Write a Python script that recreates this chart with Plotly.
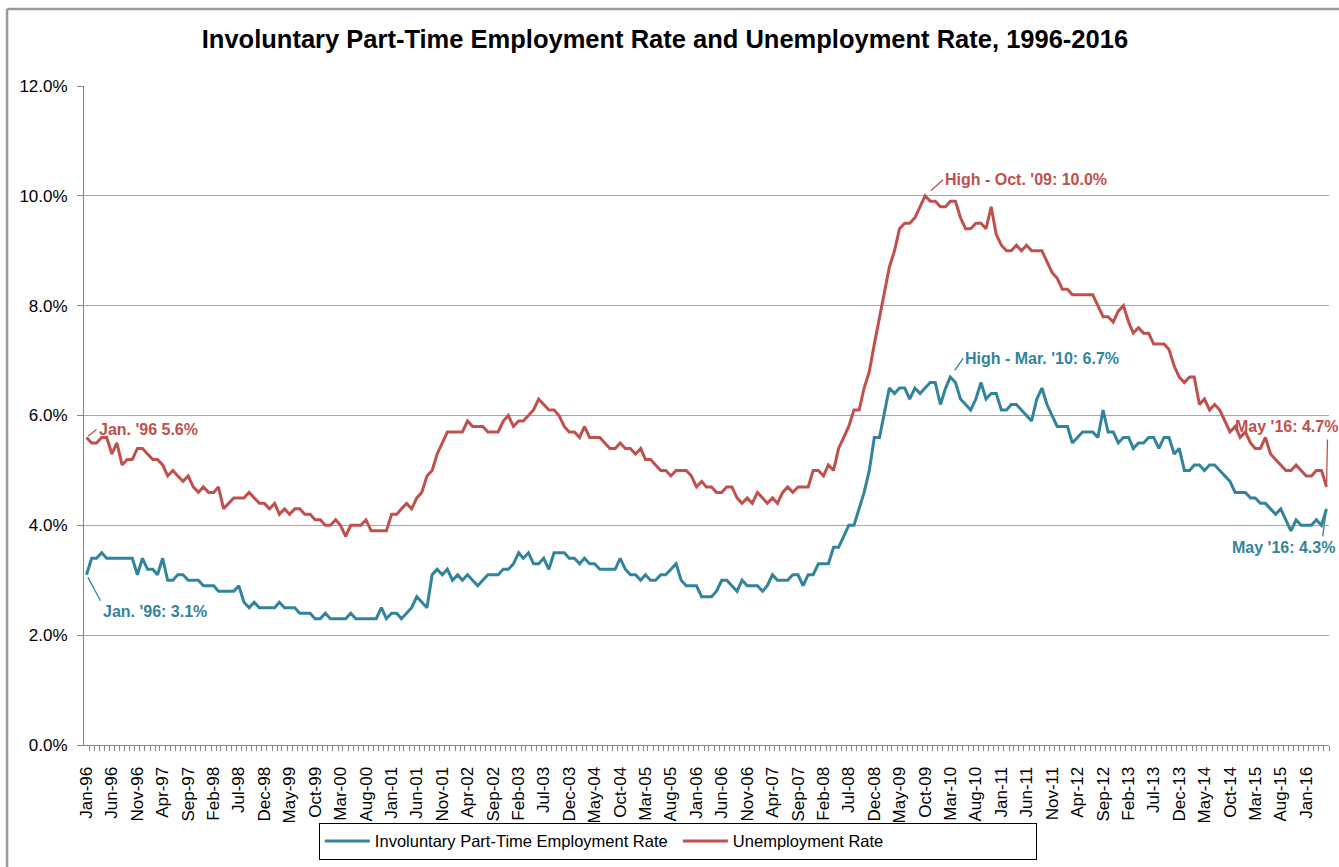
import pandas as pd
import plotly.graph_objects as go

# Monthly series, Jan-1996 .. May-2016 (percent)
INVOLUNTARY_PT = [
    3.1, 3.4, 3.4, 3.5, 3.4, 3.4, 3.4, 3.4, 3.4, 3.4, 3.1, 3.4,  # 1996
    3.2, 3.2, 3.1, 3.4, 3.0, 3.0, 3.1, 3.1, 3.0, 3.0, 3.0, 2.9,  # 1997
    2.9, 2.9, 2.8, 2.8, 2.8, 2.8, 2.9, 2.6, 2.5, 2.6, 2.5, 2.5,  # 1998
    2.5, 2.5, 2.6, 2.5, 2.5, 2.5, 2.4, 2.4, 2.4, 2.3, 2.3, 2.4,  # 1999
    2.3, 2.3, 2.3, 2.3, 2.4, 2.3, 2.3, 2.3, 2.3, 2.3, 2.5, 2.3,  # 2000
    2.4, 2.4, 2.3, 2.4, 2.5, 2.7, 2.6, 2.5, 3.1, 3.2, 3.1, 3.2,  # 2001
    3.0, 3.1, 3.0, 3.1, 3.0, 2.9, 3.0, 3.1, 3.1, 3.1, 3.2, 3.2,  # 2002
    3.3, 3.5, 3.4, 3.5, 3.3, 3.3, 3.4, 3.2, 3.5, 3.5, 3.5, 3.4,  # 2003
    3.4, 3.3, 3.4, 3.3, 3.3, 3.2, 3.2, 3.2, 3.2, 3.4, 3.2, 3.1,  # 2004
    3.1, 3.0, 3.1, 3.0, 3.0, 3.1, 3.1, 3.2, 3.3, 3.0, 2.9, 2.9,  # 2005
    2.9, 2.7, 2.7, 2.7, 2.8, 3.0, 3.0, 2.9, 2.8, 3.0, 2.9, 2.9,  # 2006
    2.9, 2.8, 2.9, 3.1, 3.0, 3.0, 3.0, 3.1, 3.1, 2.9, 3.1, 3.1,  # 2007
    3.3, 3.3, 3.3, 3.6, 3.6, 3.8, 4.0, 4.0, 4.3, 4.6, 5.0, 5.6,  # 2008
    5.6, 6.1, 6.5, 6.4, 6.5, 6.5, 6.3, 6.5, 6.4, 6.5, 6.6, 6.6,  # 2009
    6.2, 6.5, 6.7, 6.6, 6.3, 6.2, 6.1, 6.3, 6.6, 6.3, 6.4, 6.4,  # 2010
    6.1, 6.1, 6.2, 6.2, 6.1, 6.0, 5.9, 6.3, 6.5, 6.2, 6.0, 5.8,  # 2011
    5.8, 5.8, 5.5, 5.6, 5.7, 5.7, 5.7, 5.6, 6.1, 5.7, 5.7, 5.5,  # 2012
    5.6, 5.6, 5.4, 5.5, 5.5, 5.6, 5.6, 5.4, 5.6, 5.6, 5.3, 5.4,  # 2013
    5.0, 5.0, 5.1, 5.1, 5.0, 5.1, 5.1, 5.0, 4.9, 4.8, 4.6, 4.6,  # 2014
    4.6, 4.5, 4.5, 4.4, 4.4, 4.3, 4.2, 4.3, 4.1, 3.9, 4.1, 4.0,  # 2015
    4.0, 4.0, 4.1, 4.0, 4.3,                                     # 2016
]

UNEMPLOYMENT = [
    5.6, 5.5, 5.5, 5.6, 5.6, 5.3, 5.5, 5.1, 5.2, 5.2, 5.4, 5.4,  # 1996
    5.3, 5.2, 5.2, 5.1, 4.9, 5.0, 4.9, 4.8, 4.9, 4.7, 4.6, 4.7,  # 1997
    4.6, 4.6, 4.7, 4.3, 4.4, 4.5, 4.5, 4.5, 4.6, 4.5, 4.4, 4.4,  # 1998
    4.3, 4.4, 4.2, 4.3, 4.2, 4.3, 4.3, 4.2, 4.2, 4.1, 4.1, 4.0,  # 1999
    4.0, 4.1, 4.0, 3.8, 4.0, 4.0, 4.0, 4.1, 3.9, 3.9, 3.9, 3.9,  # 2000
    4.2, 4.2, 4.3, 4.4, 4.3, 4.5, 4.6, 4.9, 5.0, 5.3, 5.5, 5.7,  # 2001
    5.7, 5.7, 5.7, 5.9, 5.8, 5.8, 5.8, 5.7, 5.7, 5.7, 5.9, 6.0,  # 2002
    5.8, 5.9, 5.9, 6.0, 6.1, 6.3, 6.2, 6.1, 6.1, 6.0, 5.8, 5.7,  # 2003
    5.7, 5.6, 5.8, 5.6, 5.6, 5.6, 5.5, 5.4, 5.4, 5.5, 5.4, 5.4,  # 2004
    5.3, 5.4, 5.2, 5.2, 5.1, 5.0, 5.0, 4.9, 5.0, 5.0, 5.0, 4.9,  # 2005
    4.7, 4.8, 4.7, 4.7, 4.6, 4.6, 4.7, 4.7, 4.5, 4.4, 4.5, 4.4,  # 2006
    4.6, 4.5, 4.4, 4.5, 4.4, 4.6, 4.7, 4.6, 4.7, 4.7, 4.7, 5.0,  # 2007
    5.0, 4.9, 5.1, 5.0, 5.4, 5.6, 5.8, 6.1, 6.1, 6.5, 6.8, 7.3,  # 2008
    7.8, 8.3, 8.7, 9.0, 9.4, 9.5, 9.5, 9.6, 9.8, 10.0, 9.9, 9.9,  # 2009
    9.8, 9.8, 9.9, 9.9, 9.6, 9.4, 9.4, 9.5, 9.5, 9.4, 9.8, 9.3,  # 2010
    9.1, 9.0, 9.0, 9.1, 9.0, 9.1, 9.0, 9.0, 9.0, 8.8, 8.6, 8.5,  # 2011
    8.3, 8.3, 8.2, 8.2, 8.2, 8.2, 8.2, 8.0, 7.8, 7.8, 7.7, 7.9,  # 2012
    8.0, 7.7, 7.5, 7.6, 7.5, 7.5, 7.3, 7.3, 7.3, 7.2, 6.9, 6.7,  # 2013
    6.6, 6.7, 6.7, 6.2, 6.3, 6.1, 6.2, 6.1, 5.9, 5.7, 5.8, 5.6,  # 2014
    5.7, 5.5, 5.4, 5.4, 5.6, 5.3, 5.2, 5.1, 5.0, 5.0, 5.1, 5.0,  # 2015
    4.9, 4.9, 5.0, 5.0, 4.7,                                     # 2016
]

MONTHS = pd.date_range("1996-01-01", periods=len(UNEMPLOYMENT), freq="MS")

TICK_LABELS = [
    "Jan-96", "Jun-96", "Nov-96", "Apr-97", "Sep-97", "Feb-98", "Jul-98",
    "Dec-98", "May-99", "Oct-99", "Mar-00", "Aug-00", "Jan-01", "Jun-01",
    "Nov-01", "Apr-02", "Sep-02", "Feb-03", "Jul-03", "Dec-03", "May-04",
    "Oct-04", "Mar-05", "Aug-05", "Jan-06", "Jun-06", "Nov-06", "Apr-07",
    "Sep-07", "Feb-08", "Jul-08", "Dec-08", "May-09", "Oct-09", "Mar-10",
    "Aug-10", "Jan-11", "Jun-11", "Nov-11", "Apr-12", "Sep-12", "Feb-13",
    "Jul-13", "Dec-13", "May-14", "Oct-14", "Mar-15", "Aug-15", "Jan-16",
]
TICK_VALS = MONTHS[::5]

TEAL = "#31849B"
RED = "#C0504D"
FONT = "Liberation Sans, Arial, sans-serif"

fig = go.Figure()
fig.add_trace(go.Scatter(x=MONTHS, y=INVOLUNTARY_PT, mode="lines",
                         name="Involuntary Part-Time Employment Rate",
                         line=dict(color=TEAL, width=3)))
fig.add_trace(go.Scatter(x=MONTHS, y=UNEMPLOYMENT, mode="lines",
                         name="Unemployment Rate",
                         line=dict(color=RED, width=3)))


def label(i, series, text, color, ax, ay, xanchor, yanchor, standoff=2):
    fig.add_annotation(x=MONTHS[i], y=series[i], text=f"<b>{text}</b>",
                       showarrow=True, arrowhead=0, arrowwidth=1.3,
                       arrowcolor=color, ax=ax, ay=ay, standoff=standoff,
                       xanchor=xanchor, yanchor=yanchor,
                       font=dict(color=color, size=16, family=FONT))


i_hi_u = UNEMPLOYMENT.index(max(UNEMPLOYMENT))
i_hi_p = INVOLUNTARY_PT.index(max(INVOLUNTARY_PT))
last = len(MONTHS) - 1

label(0, UNEMPLOYMENT, "Jan. '96 5.6%", RED, 10, -8, "left", "middle")
label(0, INVOLUNTARY_PT, "Jan. '96: 3.1%", TEAL, 14, 26, "left", "top", 3)
label(i_hi_u, UNEMPLOYMENT, "High - Oct. '09: 10.0%", RED, 18, -16, "left", "middle", 8)
label(i_hi_p, INVOLUNTARY_PT, "High - Mar. '10: 6.7%", TEAL, 13, -19, "left", "middle", 8)

# May '16 end labels: leader line and text placed separately
for series, text, color, ax, ay, xs, ys in [
    (UNEMPLOYMENT, "May '16: 4.7%", RED, 1, -49, -40, 60),
    (INVOLUNTARY_PT, "May '16: 4.3%", TEAL, -4, 29, -43, -39),
]:
    fig.add_annotation(x=MONTHS[last], y=series[last], text="", showarrow=True,
                       arrowhead=0, arrowwidth=1.3, arrowcolor=color,
                       ax=ax, ay=ay, standoff=3)
    fig.add_annotation(x=MONTHS[last], y=series[last], text=f"<b>{text}</b>",
                       showarrow=False, xshift=xs, yshift=ys,
                       font=dict(color=color, size=16, family=FONT))

# outer chart-area border (top and left edges visible)
fig.add_shape(type="line", xref="paper", yref="paper", x0=-0.0618, x1=1.2,
              y0=1.1168, y1=1.1168, line=dict(color="#999999", width=2.5))
fig.add_shape(type="line", xref="paper", yref="paper", x0=-0.0618, x1=-0.0618,
              y0=1.1168, y1=-0.3, line=dict(color="#999999", width=2.5))

fig.update_layout(
    width=1339, height=867,
    title=dict(text="<b>Involuntary Part-Time Employment Rate and Unemployment Rate, 1996-2016</b>",
               x=0.4966, xanchor="center", y=0.955, yanchor="middle", yref="container",
               font=dict(size=25.5, color="#000000", family=FONT)),
    margin=dict(l=84, r=10, t=86, b=122, autoexpand=False),
    paper_bgcolor="white", plot_bgcolor="white",
    font=dict(family=FONT, size=17, color="#000000"),
    legend=dict(orientation="h", x=0.477, xanchor="center", y=-0.118, yanchor="top",
                bordercolor="#000000", borderwidth=1, entrywidth=298, itemwidth=45,
                font=dict(size=16.5, family=FONT)),
    showlegend=True,
)
fig.update_xaxes(
    range=["1995-12-17", "2016-05-16"], automargin=False,
    tickmode="array", tickvals=TICK_VALS, ticktext=TICK_LABELS,
    tickangle=-90, ticks="", ticklabelstandoff=14,
    tickfont=dict(size=17, family=FONT),
    showgrid=False, showline=True, linecolor="#868686", linewidth=1,
    minor=dict(ticks="outside", ticklen=5, tickcolor="#868686",
               dtick="M1", tick0="1995-12-16", showgrid=False),
)
fig.update_yaxes(
    range=[0, 12], dtick=2, tickformat=".1f", ticksuffix="%", automargin=False,
    ticks="outside", ticklen=6, tickcolor="#868686", ticklabelstandoff=6,
    tickfont=dict(size=17, family=FONT),
    showgrid=True, gridcolor="#a6a6a6", gridwidth=1, zeroline=False,
    showline=True, linecolor="#868686", linewidth=1,
)

# drop the browser's default page margin so the figure sits at the window origin
fig.write_html("out.html", config={"displayModeBar": False},
               post_script="document.body.style.margin='0';")
